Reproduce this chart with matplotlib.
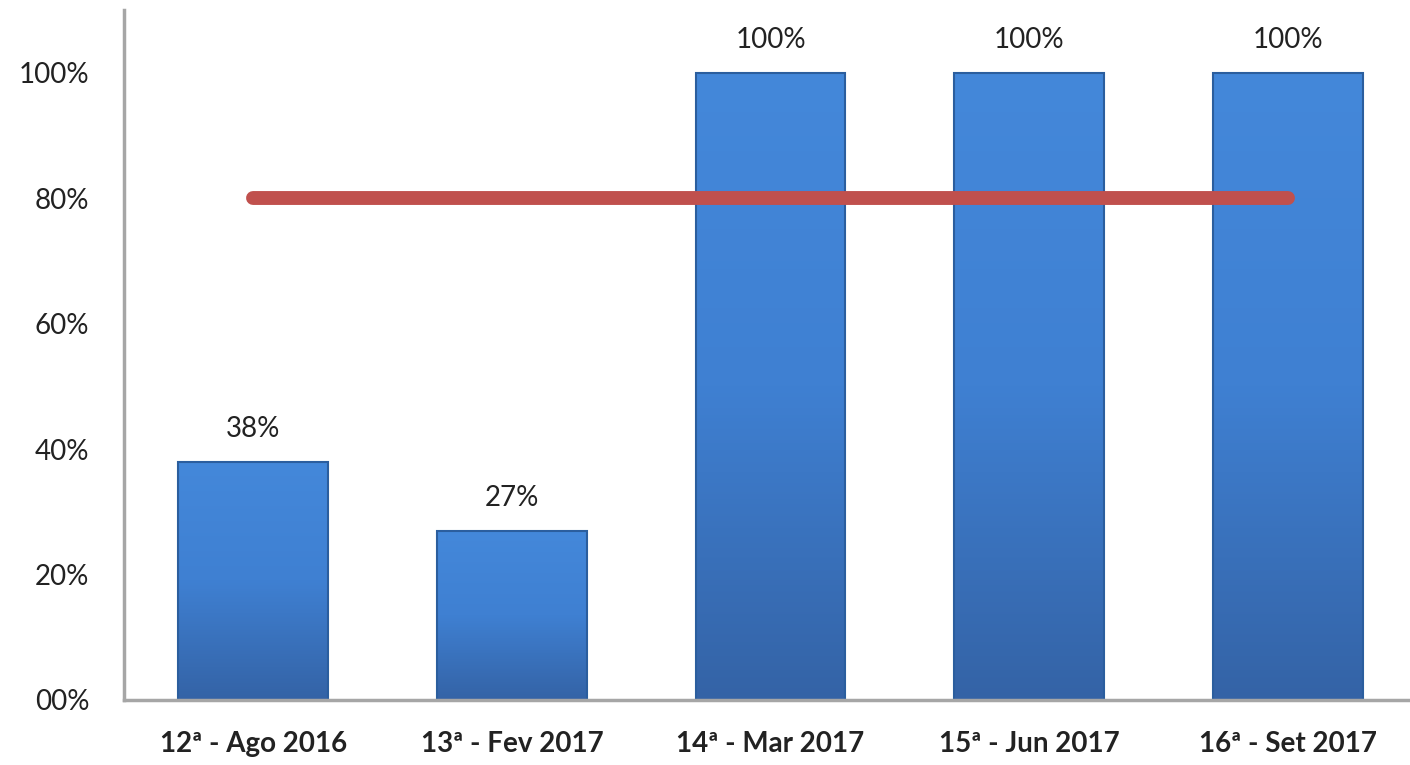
import matplotlib.pyplot as plt
import numpy as np
from matplotlib.colors import LinearSegmentedColormap

# survey rounds and share of compliance
rounds = ['12ª - Ago 2016', '13ª - Fev 2017', '14ª - Mar 2017', '15ª - Jun 2017', '16ª - Set 2017']
values = [0.38, 0.27, 1.00, 1.00, 1.00]
labels = ['38%', '27%', '100%', '100%', '100%']
target = [0.80, 0.80, 0.80, 0.80, 0.80]
ytick_vals = [0.0, 0.2, 0.4, 0.6, 0.8, 1.0]
ytick_labels = ['00%', '20%', '40%', '60%', '80%', '100%']

plt.rcParams['font.family'] = ['Lato', 'DejaVu Sans']

fig = plt.figure(figsize=(14.1, 7.65), dpi=100)
ax = fig.add_axes([124 / 1410, 65 / 765, 1293 / 1410, 690 / 765])

x = list(range(len(rounds)))
bars = ax.bar(x, values, width=0.58, color='#3C7CCB', edgecolor='none', zorder=2)

# soft vertical gradient inside each bar, then a darker outline on top
cmap = LinearSegmentedColormap.from_list('bar', ['#3463A6', '#3F80D2', '#4488DA'])
grad = np.linspace(0, 1, 256).reshape(-1, 1)
for b in bars:
    x0, y0 = b.get_x(), b.get_y()
    w, h = b.get_width(), b.get_height()
    im = ax.imshow(grad, cmap=cmap, aspect='auto', origin='lower',
                   extent=[x0, x0 + w, y0, y0 + h], zorder=2.1)
    im.set_clip_path(b)
ax.bar(x, values, width=0.58, color='none', edgecolor='#2B5E9E', linewidth=1.5, zorder=2.2)

ax.plot(x, target, color='#C0504D', linewidth=10, solid_capstyle='round', zorder=3)

for xi, v, lab in zip(x, values, labels):
    ax.annotate(lab, (xi, v), xytext=(0, 14), textcoords='offset points',
                ha='center', va='bottom', fontsize=20, color='#222222')

ax.set_xlim(-0.5, 4.5)
ax.set_ylim(0, 1.1)
ax.set_yticks(ytick_vals)
ax.set_yticklabels(ytick_labels)
ax.set_xticks(x)
ax.set_xticklabels(rounds, fontweight='bold')
ax.tick_params(axis='both', length=0, labelsize=20, colors='#222222')
ax.tick_params(axis='y', pad=25)
ax.tick_params(axis='x', pad=22)

for side in ['top', 'right']:
    ax.spines[side].set_visible(False)
for side in ['left', 'bottom']:
    ax.spines[side].set_color('#A6A6A6')
    ax.spines[side].set_linewidth(2.5)

fig.savefig('out.png', dpi=100)
